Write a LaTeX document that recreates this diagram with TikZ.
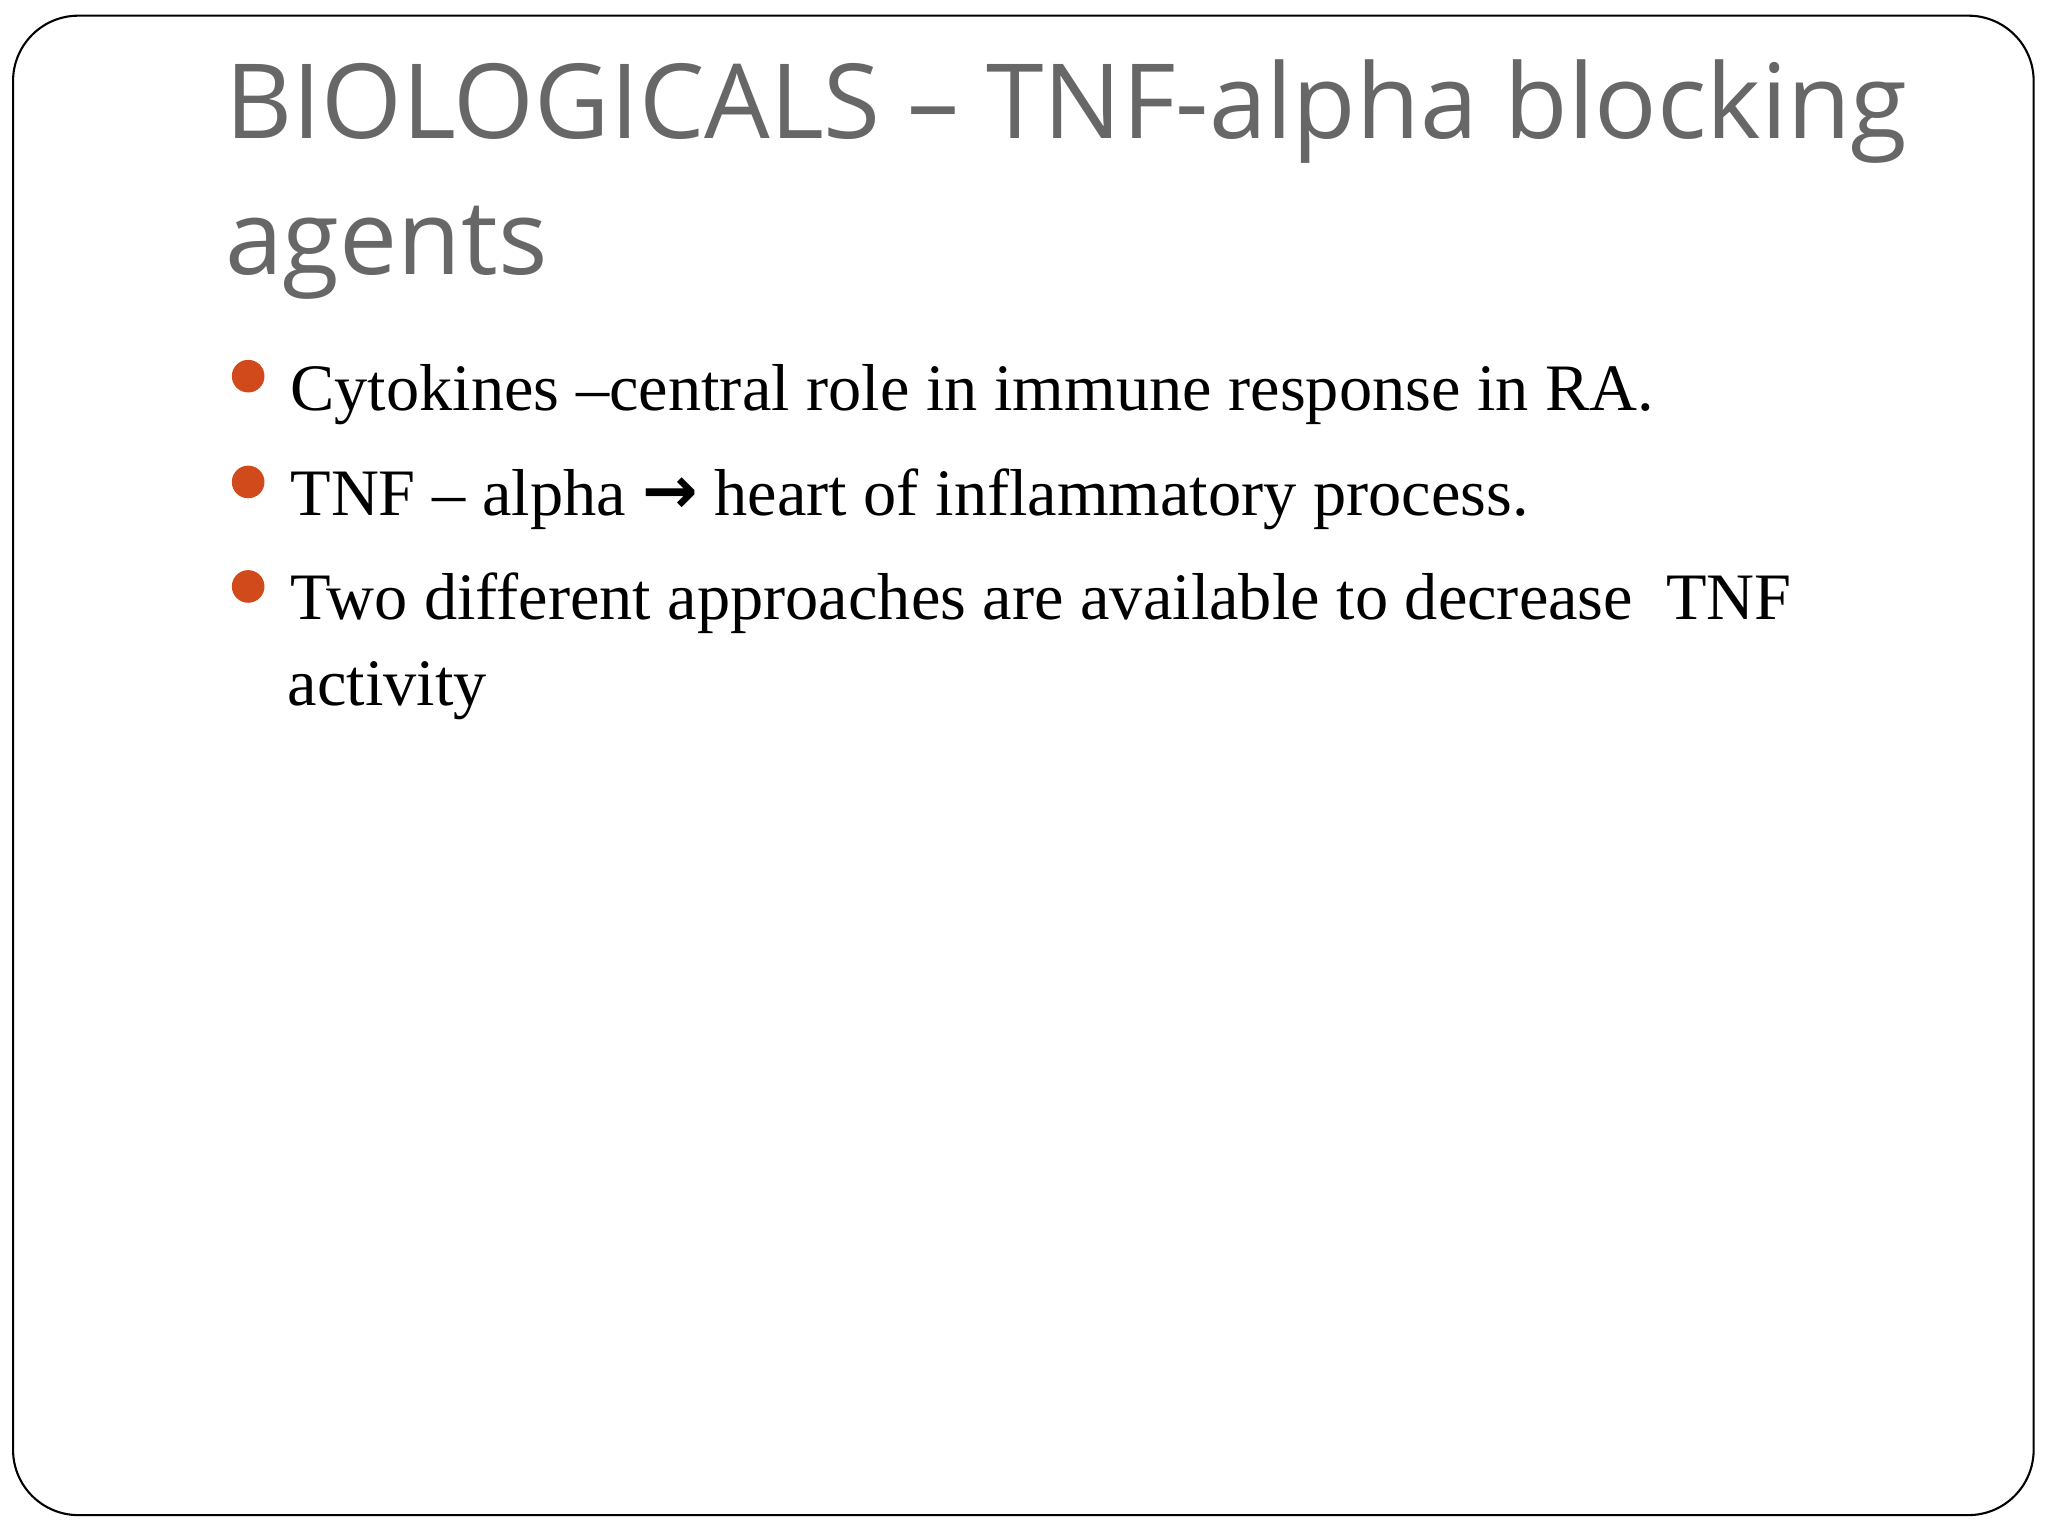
\documentclass[tikz,border=0pt]{standalone}
\usepackage{fontspec}
\setmainfont{Liberation Serif}
\newfontfamily\titlefont{Open Sans}
\definecolor{bul}{HTML}{D04A1C}
\definecolor{tgray}{HTML}{676767}
\begin{document}
\begin{tikzpicture}[x=0.5pt,y=-0.5pt,
  title/.style={anchor=base west,inner sep=0pt,font=\titlefont\fontsize{39.7}{48}\selectfont,text=tgray},
  body/.style={anchor=base west,inner sep=0pt,font=\fontsize{25.4}{32}\selectfont},
  dot/.style={fill=bul,circle,inner sep=0pt,minimum size=12.5pt}]
\useasboundingbox (0,0) rectangle (1568,1176);
\draw[black,line width=0.8pt,rounded corners=25pt] (10,12) rectangle (1557,1160);
\node[title] (t1) at (172,106) {BIOLOGICALS – TNF-alpha blocking};
\node[title] (t2) at (172,210) {agents};
\node[dot] (d1) at (190,288) {};
\node[dot] (d2) at (190,369) {};
\node[dot] (d3) at (190,449) {};
\node[body] (b1) at (222,314) {Cytokines –central role in immune response in RA.};
\node[body] (b2) at (222,395) {TNF – alpha \raisebox{1pt}{\fontspec{DejaVu Sans}\bfseries →} heart of inflammatory process.};
\node[body] (b3) at (222,474) {Two different approaches are available to decrease\ \ TNF};
\node[body] (b4) at (220,540) {activity};
\end{tikzpicture}
\end{document}
